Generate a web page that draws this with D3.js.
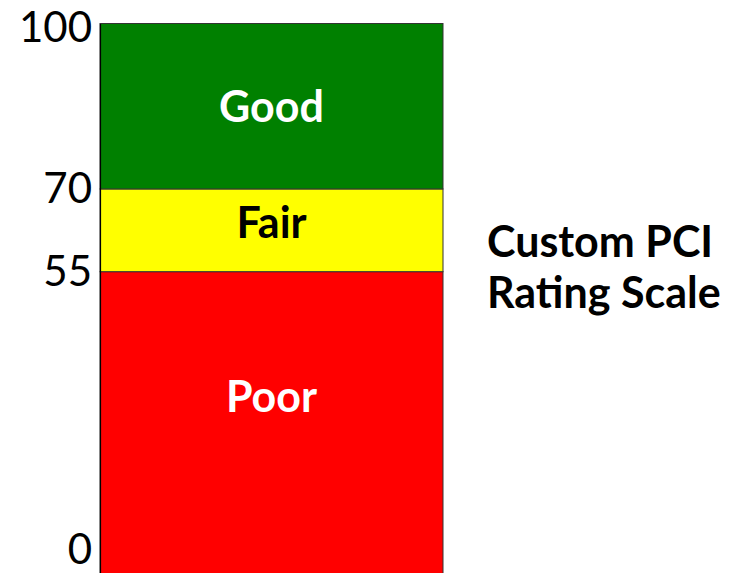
<!DOCTYPE html>
<html>
<head>
<meta charset="utf-8">
<script src="https://d3js.org/d3.v7.min.js"></script>
<style>
  body { margin: 0; background: #fff; }
  svg { display: block; font-family: Lato, "Open Sans", sans-serif; }
</style>
</head>
<body>
<div id="vis"></div>
<script>
var width = 730;
var height = 573;

// rating bands (PCI score ranges)
var bandNames = ["Poor", "Fair", "Good"];
var bandFrom = [0, 55, 70];
var bandTo = [55, 70, 100];
var bandColors = ["#ff0000", "#ffff00", "#008000"];
var labelColors = ["#ffffff", "#000000", "#ffffff"];
// where each band's label sits, in score units
var labelAt = [32.4, 64, 85];
var tickValues = [0, 55, 70, 100];
var titleLines = ["Custom PCI", "Rating Scale"];

var svg = d3.select('#vis')
    .append('svg')
    .attr('width', width)
    .attr('height', height);

var y = d3.scaleLinear().domain([0, 100]).range([575, 23.5]);
var x = d3.scaleBand().domain(["PCI"]).range([100, 443]).padding(0);

var bands = bandNames.map(function (d, i) {
    return { name: d, from: bandFrom[i], to: bandTo[i], color: bandColors[i], text: labelColors[i], at: labelAt[i] };
});

svg.append('g').selectAll('rect')
    .data(bands)
    .enter().append('rect')
    .attr('x', x("PCI"))
    .attr('width', x.bandwidth())
    .attr('y', function (d) { return y(d.to); })
    .attr('height', function (d) { return y(d.from) - y(d.to); })
    .attr('fill', function (d) { return d.color; })
    .attr('stroke', '#333')
    .attr('stroke-width', 1);

svg.append('g').selectAll('text')
    .data(bands)
    .enter().append('text')
    .attr('x', x("PCI") + x.bandwidth() / 2)
    .attr('y', function (d) { return y(d.at); })
    .attr('dy', '0.36em')
    .attr('text-anchor', 'middle')
    .attr('font-weight', 'bold')
    .attr('font-size', 43)
    .attr('fill', function (d) { return d.text; })
    .text(function (d) { return d.name; });

// axis: line on left, labels clamped inside the picture like the original
var axis = d3.axisLeft(y).tickValues(tickValues).tickSize(0).tickPadding(8);
var ag = svg.append('g').attr('transform', 'translate(100,0)').call(axis);
ag.select('.domain').attr('stroke', '#000').attr('stroke-width', 1.2);
ag.selectAll('.tick text')
    .attr('font-family', 'Lato, sans-serif')
    .attr('font-size', 42)
    .attr('fill', '#000')
    .attr('transform', function (d) {
        var py = y(d);
        var cy = Math.max(28, Math.min(550, py));
        return 'translate(0,' + (cy - py) + ')';
    });

svg.append('g').selectAll('text')
    .data(titleLines)
    .enter().append('text')
    .attr('x', 487)
    .attr('y', function (d, i) { return 257 + i * 51; })
    .attr('font-weight', 'bold')
    .attr('font-size', 43)
    .attr('fill', '#000')
    .text(function (d) { return d; });
</script>
</body>
</html>
